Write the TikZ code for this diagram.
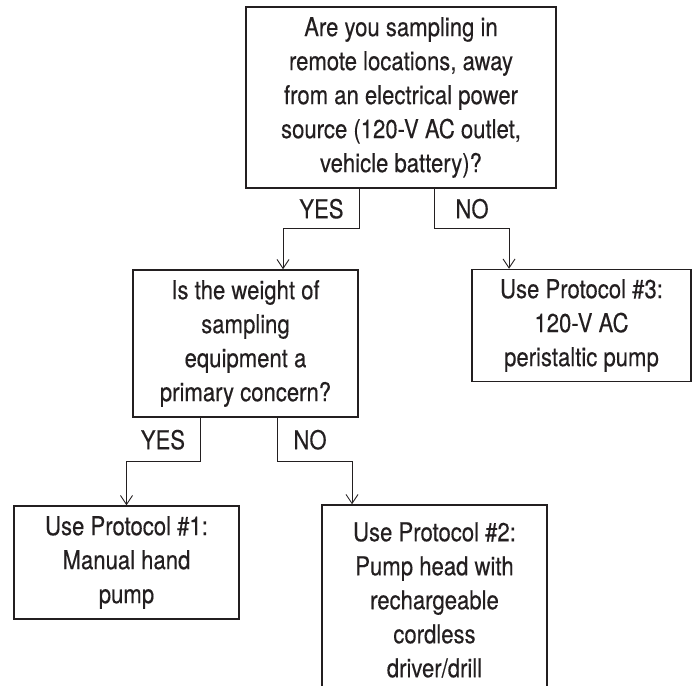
\documentclass[tikz,border=0pt]{standalone}
\usepackage{fontspec}
\setmainfont{TeX Gyre Heros}[FakeStretch=0.85, FakeBold=0.3]
\usepackage{tikz}
\usetikzlibrary{arrows.meta}
\definecolor{inkBlack}{RGB}{35,31,32}
\tikzset{
    flowBox/.style={draw=inkBlack, line width=1.5pt, inner sep=0pt, align=center,
        text=inkBlack, font=\fontsize{26}{34}\selectfont},
    branchLine/.style={draw=inkBlack, line width=0.9pt, -{Straight Barb[length=9pt,width=12pt]}},
    branchLabel/.style={inner sep=0pt, text=inkBlack, font=\fontsize{26}{30}\selectfont}
}

\begin{document}
\begin{tikzpicture}[x=1pt,y=-1pt]
            \useasboundingbox (0,0) rectangle (693,685);

            \node[flowBox, minimum width=310pt, minimum height=181pt] (askRemote) at (401,97.5)
                {Are you sampling in\\remote locations, away\\from an electrical power\\source (120-V AC outlet,\\vehicle battery)?};
            \node[flowBox, minimum width=225pt, minimum height=147pt] (askWeight) at (245.5,343.5)
                {Is the weight of\\sampling\\equipment a\\primary concern?};
            \node[flowBox, minimum width=219pt, minimum height=112pt] (useThree) at (581.5,325.5)
                {Use Protocol \#3:\\120-V AC\\peristaltic pump};
            \node[flowBox, minimum width=225pt, minimum height=113pt] (useOne) at (126.5,562.5)
                {Use Protocol \#1:\\Manual hand\\pump};
            \node[flowBox, minimum width=225pt, minimum height=190pt] (useTwo) at (434.5,600)
                {Use Protocol \#2:\\Pump head with\\rechargeable\\cordless\\driver/drill};

            \draw[branchLine] ([xshift=-42pt]askRemote.south) -- node[branchLabel, left=15pt] {YES} ++(0,40) -| ([xshift=37.5pt]askWeight.north);
            \draw[branchLine] ([xshift=33pt]askRemote.south) -- node[branchLabel, right=21pt] {NO} ++(0,40) -| ([xshift=-72.5pt]useThree.north);
            \draw[branchLine] ([xshift=-45pt]askWeight.south) -- node[branchLabel, left=15pt] {YES} ++(0,44) -| (useOne.north);
            \draw[branchLine] ([xshift=31.5pt]askWeight.south) -- node[branchLabel, right=16pt] {NO} ++(0,44) -| ([xshift=-82.5pt]useTwo.north);
\end{tikzpicture}
\end{document}
